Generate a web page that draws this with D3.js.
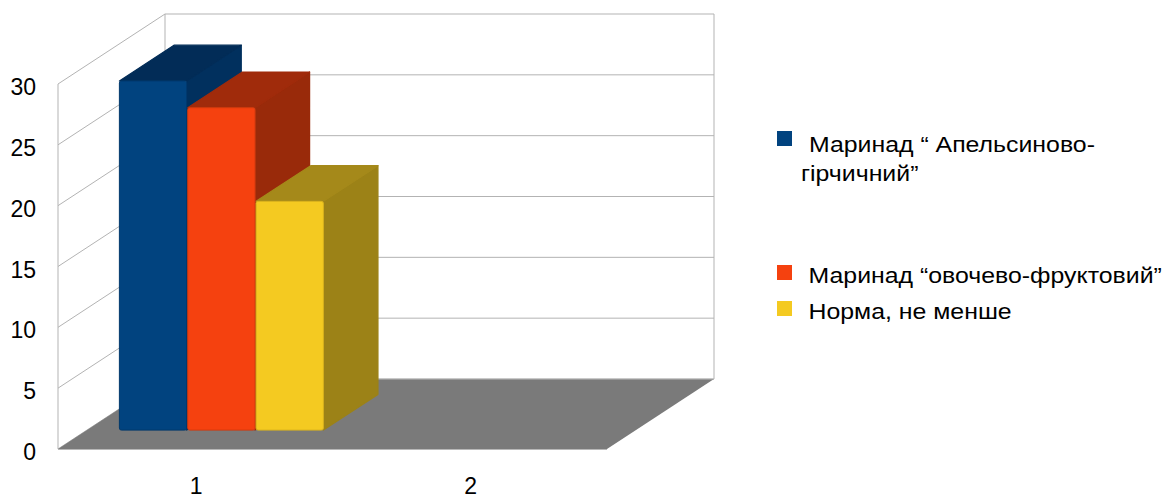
<!DOCTYPE html>
<html>
<head>
<meta charset="utf-8">
<script src="https://cdn.jsdelivr.net/npm/d3@7"></script>
<style>
  html, body { margin: 0; padding: 0; background: #fff; }
  svg { display: block; }
  text { font-family: "Liberation Sans", Arial, sans-serif; fill: #000; }
</style>
</head>
<body>
<svg id="chart" width="1172" height="496"></svg>
<script>
// ---- data ----
const categories = ["1", "2"];
const seriesNames = [" Маринад “ Апельсиново-гірчичний”", "Маринад “овочево-фруктовий”", "Норма, не менше"];
const seriesA = [28.7, null];
const seriesB = [26.5, null];
const seriesC = [18.8, null];
const yTicks = [0, 5, 10, 15, 20, 25, 30];

const seriesValues = [seriesA, seriesB, seriesC];
const colors = [
  { front: "#01437f", top: "#022c57", side: "#01305e", edge: "#01386c" },
  { front: "#f5410f", top: "#a02b0b", side: "#992a0a", edge: "#d23a0e" },
  { front: "#f4ca21", top: "#a5891a", side: "#9c8217", edge: "#d9b21d" }
];
const legendLines = [[" Маринад “ Апельсиново-", "гірчичний”"], ["Маринад “овочево-фруктовий”"], ["Норма, не менше"]];

// ---- layout ----
const svg = d3.select("#chart");
const DX = 107, DY = 70;          // depth offset of the whole plot
const bar0 = 0.27, bar1 = 0.78;   // depth fractions of bars' front & back
const y = d3.scaleLinear().domain([0, 30]).range([449, 84]);
const x = d3.scaleBand().domain(categories).range([58, 607]).paddingInner(0).paddingOuter(0);
const xs = d3.scaleBand().domain(d3.range(seriesValues.length))
  .range([32.5, 32.5 + 204]).paddingInner(0.015).paddingOuter(0);

const P = (px, v, d) => [px + d * DX, y(v) - d * DY];
const grid = "#b3b3b3";

// back wall & left wall grid
const g = svg.append("g");
yTicks.forEach(t => {
  const [fx, fy] = P(58, t, 0);
  const [bx, by] = P(58, t, 1);
  g.append("line").attr("x1", fx).attr("y1", fy).attr("x2", bx).attr("y2", by)
    .attr("stroke", grid).attr("stroke-width", 1);
  g.append("line").attr("x1", bx).attr("y1", by).attr("x2", P(607, t, 1)[0]).attr("y2", by)
    .attr("stroke", grid).attr("stroke-width", 1);
});
// wall edges
const top30 = d3.max(yTicks);
g.append("line").attr("x1", P(58, 0, 0)[0]).attr("y1", P(58, 0, 0)[1])
  .attr("x2", P(58, top30, 0)[0]).attr("y2", P(58, top30, 0)[1]).attr("stroke", grid);
g.append("line").attr("x1", P(58, 0, 1)[0]).attr("y1", P(58, 0, 1)[1])
  .attr("x2", P(58, top30, 1)[0]).attr("y2", P(58, top30, 1)[1]).attr("stroke", grid);
g.append("line").attr("x1", P(607, 0, 1)[0]).attr("y1", P(607, 0, 1)[1])
  .attr("x2", P(607, top30, 1)[0]).attr("y2", P(607, top30, 1)[1]).attr("stroke", grid);

// floor
const floorPts = [P(58, 0, 0), P(607, 0, 0), P(607, 0, 1), P(58, 0, 1)];
svg.append("polygon").attr("points", floorPts.map(p => p.join(",")).join(" "))
  .attr("fill", "#7a7a7a");
svg.append("line").attr("x1", floorPts[0][0]).attr("y1", floorPts[0][1] + 0.5)
  .attr("x2", floorPts[1][0]).attr("y2", floorPts[1][1] + 0.5).attr("stroke", "#b8b8b8");
svg.append("line").attr("x1", floorPts[3][0]).attr("y1", floorPts[3][1])
  .attr("x2", floorPts[2][0]).attr("y2", floorPts[2][1]).attr("stroke", "#b8b8b8");

// bars
const bars = svg.append("g");
categories.forEach((c, ci) => {
  seriesValues.forEach((vals, si) => {
    const v = vals[ci];
    if (v == null) return;
    const x0 = x(c) + xs(si), x1 = x0 + xs.bandwidth();
    const col = colors[si];
    const poly = pts => pts.map(p => p.join(",")).join(" ");
    // right side
    bars.append("polygon").attr("points", poly([P(x1, v, bar0), P(x1, v, bar1), P(x1, 0, bar1), P(x1, 0, bar0)]))
      .attr("fill", col.side).attr("stroke", col.side).attr("stroke-width", 1.2).attr("stroke-linejoin", "round");
    // top
    bars.append("polygon").attr("points", poly([P(x0, v, bar0), P(x0, v, bar1), P(x1, v, bar1), P(x1, v, bar0)]))
      .attr("fill", col.top).attr("stroke", col.top).attr("stroke-width", 1.2).attr("stroke-linejoin", "round");
    // front
    const [fx0, fy0] = P(x0, v, bar0), [fx1, fy1] = P(x1, 0, bar0);
    bars.append("rect").attr("x", fx0).attr("y", fy0).attr("width", fx1 - fx0).attr("height", fy1 - fy0)
      .attr("rx", 2).attr("fill", col.front).attr("stroke", col.edge).attr("stroke-width", 1);
  });
});

// y tick labels
svg.append("g").selectAll("text").data(yTicks).join("text")
  .attr("x", 36).attr("y", d => y(d) + 11).attr("text-anchor", "end")
  .style("font-size", "23px").text(d => d);

// x labels
svg.append("g").selectAll("text").data(categories).join("text")
  .attr("x", d => x(d) + x.bandwidth() / 2 + 1).attr("y", 494).attr("text-anchor", "middle")
  .style("font-size", "23px").text(d => d);

// legend
const squareY = [131, 265, 301];
const baseY = [152, 282.5, 318.5];
const lg = svg.append("g");
seriesNames.forEach((name, i) => {
  lg.append("rect").attr("x", 777).attr("y", squareY[i]).attr("width", 15).attr("height", 15)
    .attr("fill", colors[i].front);
  legendLines[i].forEach((ln, li) => {
    const tx = (i === 0 ? (li === 0 ? 802 : 801) : 808.5);
    lg.append("g").attr("transform", `translate(${tx},${baseY[i] + li * 29}) scale(1.13,1)`)
      .append("text").attr("x", 0).attr("y", 0).attr("xml:space", "preserve")
      .style("font-size", "22px").text(ln);
  });
});
</script>
</body>
</html>
